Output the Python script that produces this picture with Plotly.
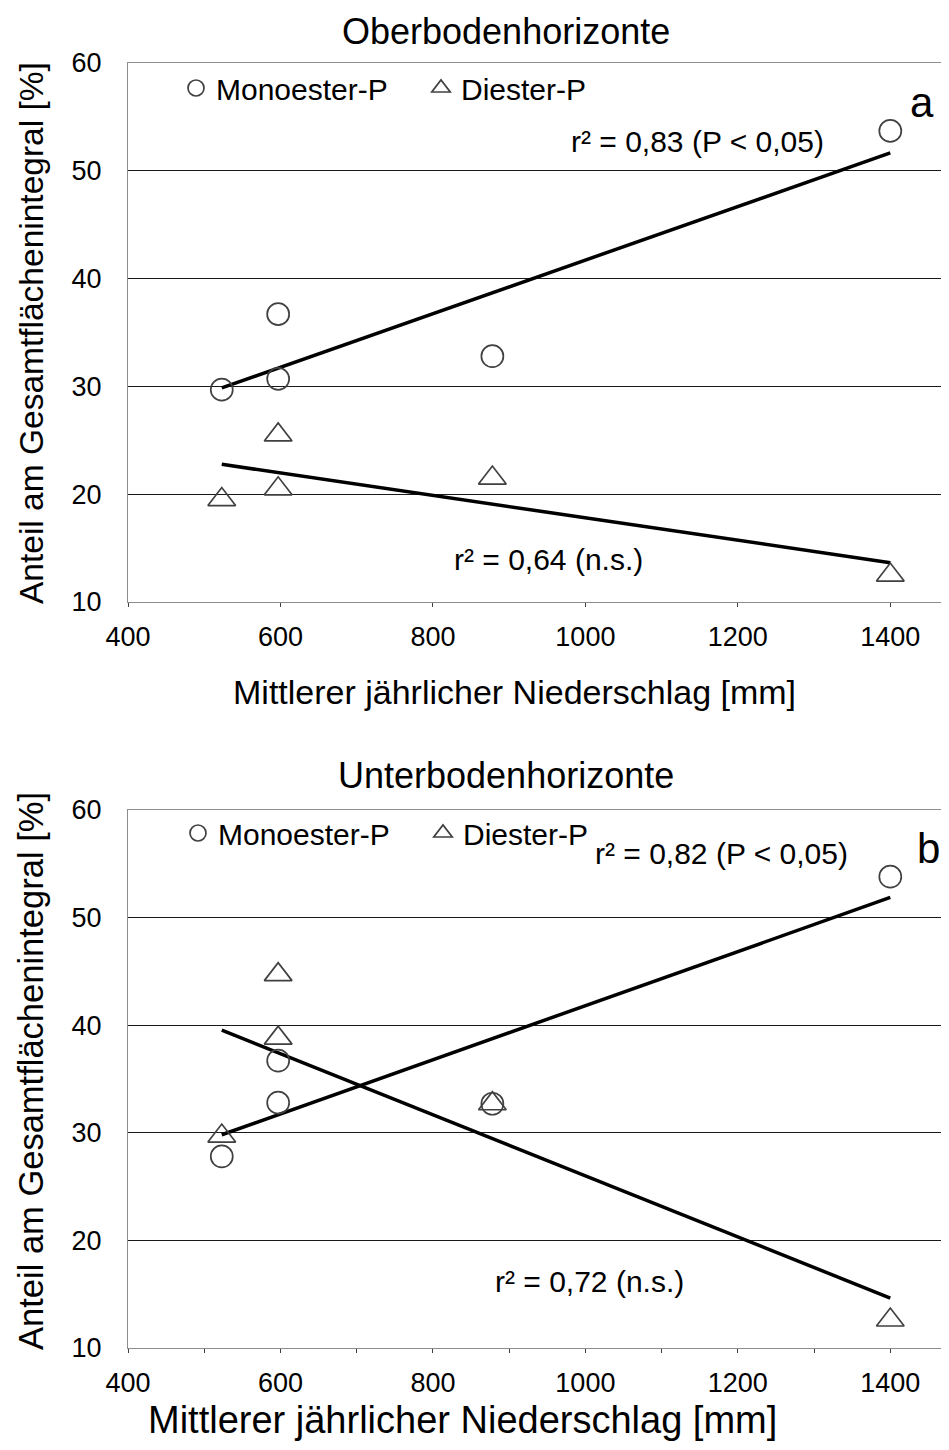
import numpy as np
import plotly.graph_objects as go

# ---- data ----
precip = [523, 597, 597, 878, 1400]
top_mono = [29.7, 36.7, 30.7, 32.8, 53.7]
top_di = [19.5, 25.5, 20.5, 21.5, 12.5]
bot_mono = [27.8, 36.7, 32.8, 32.7, 53.8]
bot_di = [29.7, 44.7, 38.8, 32.7, 12.6]

titles = ["Oberbodenhorizonte", "Unterbodenhorizonte"]
panel_letters = ["a", "b"]
r2_mono = ["r² = 0,83 (P < 0,05)", "r² = 0,82 (P < 0,05)"]
r2_di = ["r² = 0,64 (n.s.)", "r² = 0,72 (n.s.)"]
x_ticks = [400, 600, 800, 1000, 1200, 1400]
y_ticks = [10, 20, 30, 40, 50, 60]
xlab = "Mittlerer jährlicher Niederschlag [mm]"
ylab = "Anteil am Gesamtflächenintegral [%]"

FONT = "Arial, Liberation Sans, Helvetica, sans-serif"
MK = "#404040"

# page offset (browser body margin)
OFF = 8
W, Hfig = 949 - OFF, 1450 - OFF
L, T, B = 128 - OFF, 63 - OFF, 1450 - 1348
PW = W - L
PH = Hfig - T - B

def px_x(px):
    return (px - OFF - L) / PW

def px_y(py):
    return 1 - (py - OFF - T) / PH

fig = go.Figure()

panels = [(top_mono, top_di), (bot_mono, bot_di)]
for i, (mono, di) in enumerate(panels):
    xa = "x" if i == 0 else "x2"
    ya = "y" if i == 0 else "y2"
    lg = "legend" if i == 0 else "legend2"
    x = np.array(precip, dtype=float)
    xs = np.array([x.min(), x.max()])
    for ys in (mono, di):
        k, b = np.polyfit(x, np.array(ys), 1)
        fig.add_trace(go.Scatter(x=xs, y=k * xs + b, mode="lines",
                                 line=dict(color="black", width=3.5),
                                 showlegend=False, xaxis=xa, yaxis=ya, hoverinfo="skip"))
    fig.add_trace(go.Scatter(x=precip, y=mono, mode="markers", name="Monoester-P",
                             marker=dict(symbol="circle-open", size=22,
                                         line=dict(color=MK, width=1.7), color=MK),
                             xaxis=xa, yaxis=ya, legend=lg))
    fig.add_trace(go.Scatter(x=precip, y=di, mode="markers", name="Diester-P",
                             marker=dict(symbol="triangle-up-open", size=24,
                                         line=dict(color=MK, width=1.7), color=MK),
                             xaxis=xa, yaxis=ya, legend=lg))

dom_top = [px_y(602), 1]
dom_bot = [0, px_y(810)]

axis_common = dict(showline=True, linecolor="#8c8c8c", linewidth=1.3,
                   tickfont=dict(family=FONT, size=27, color="black"))

for i, dom in enumerate([dom_top, dom_bot]):
    sfx = "" if i == 0 else "2"
    xa = dict(axis_common, range=[400, 1477], tickvals=x_ticks, ticks="outside",
              ticklen=4, tickcolor="#404040", showgrid=False, zeroline=False,
              mirror=True, anchor="y" + sfx, ticklabelstandoff=6)
    if i == 1:
        xa["minor"] = dict(dtick=100, ticks="outside", ticklen=4,
                           tickcolor="#404040", showgrid=False)
    ya = dict(axis_common, range=[10, 60], tickvals=y_ticks, ticks="",
              showgrid=True, gridcolor="#1a1a1a", gridwidth=1, zeroline=False,
              domain=dom, anchor="x" + sfx, ticklabelstandoff=20)
    fig.update_layout(**{"xaxis" + sfx: xa, "yaxis" + sfx: ya})

ann = []
title_y = [9, 753]
xlab_y = [692, 1420]
xlab_x = [514, 462]
xlab_size = [34, 38]
ylab_y = [333, 1071]
ylab_size = [33.5, 34.5]
for i in range(2):
    ann.append(dict(text=titles[i], xref="paper", yref="paper", x=px_x(506),
                    y=px_y(title_y[i]), showarrow=False,
                    font=dict(family=FONT, size=36, color="black"),
                    xanchor="center", yanchor="top"))
    ann.append(dict(text=xlab, xref="paper", yref="paper", x=px_x(xlab_x[i]),
                    y=px_y(xlab_y[i]), showarrow=False,
                    font=dict(family=FONT, size=xlab_size[i], color="black"),
                    xanchor="center", yanchor="middle"))
    ann.append(dict(text=ylab, xref="paper", yref="paper", x=px_x(31),
                    y=px_y(ylab_y[i]), showarrow=False, textangle=-90,
                    font=dict(family=FONT, size=ylab_size[i], color="black"),
                    xanchor="center", yanchor="middle"))

# in-plot texts (data coordinates)
letter_pos = [(1441, 56.3), (1450, 56.4)]
mono_pos = [(1147, 52.7), (1179, 56.0)]
di_pos = [(952, 13.9), (1005, 16.2)]
for i in range(2):
    sfx = "" if i == 0 else "2"
    ann.append(dict(text=panel_letters[i], xref="x" + sfx, yref="y" + sfx,
                    x=letter_pos[i][0], y=letter_pos[i][1], showarrow=False,
                    font=dict(family=FONT, size=42, color="black")))
    ann.append(dict(text=r2_mono[i], xref="x" + sfx, yref="y" + sfx,
                    x=mono_pos[i][0], y=mono_pos[i][1], showarrow=False,
                    font=dict(family=FONT, size=30, color="black")))
    ann.append(dict(text=r2_di[i], xref="x" + sfx, yref="y" + sfx,
                    x=di_pos[i][0], y=di_pos[i][1], showarrow=False,
                    font=dict(family=FONT, size=30, color="black")))

leg = dict(orientation="h", xanchor="left", yanchor="middle", bgcolor="rgba(0,0,0,0)",
           font=dict(family=FONT, size=30, color="black"), itemwidth=30,
           entrywidth=200, entrywidthmode="pixels")
fig.update_layout(
    width=W, height=Hfig,
    margin=dict(l=L, r=0, t=T, b=B),
    paper_bgcolor="white", plot_bgcolor="white",
    annotations=ann,
    legend=dict(leg, x=px_x(176), y=px_y(88)),
    legend2=dict(leg, x=px_x(178), y=px_y(833)),
)

fig.write_html("out.html")
